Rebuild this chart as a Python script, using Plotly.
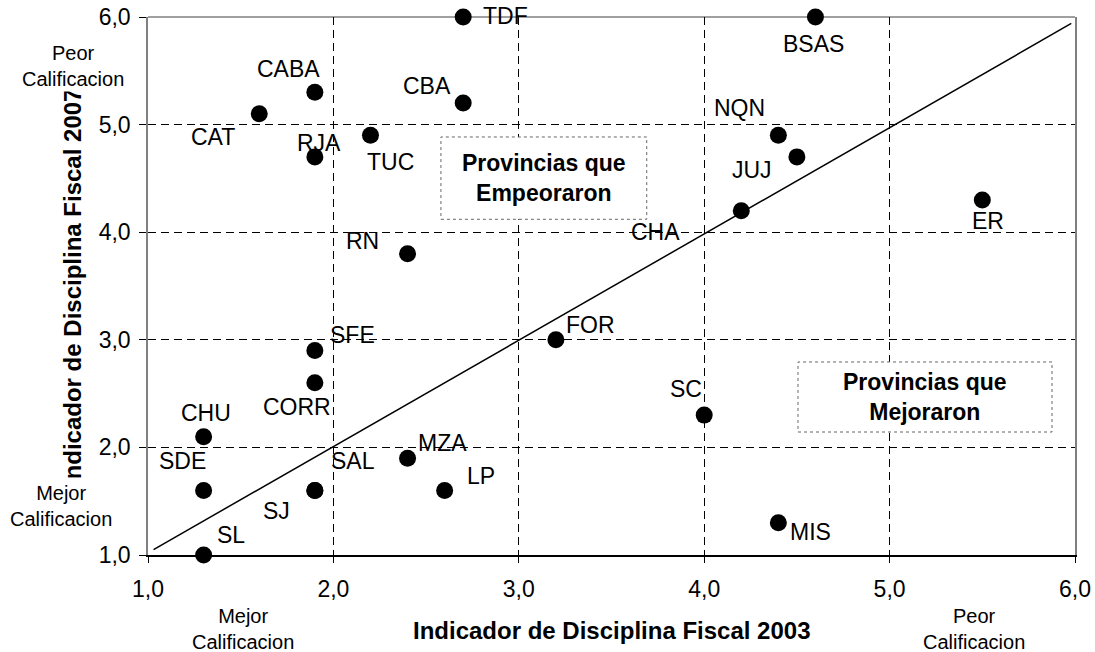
import plotly.graph_objects as go

# ---- data ----
PROVINCES = ["TDF", "BSAS", "CABA", "CBA", "CAT", "TUC", "RJA", "NQN", "JUJ", "CHA",
             "ER", "RN", "FOR", "SFE", "CORR", "SC", "CHU", "MZA", "SDE", "SAL",
             "SJ", "LP", "MIS", "SL"]
X_2003 = [2.7, 4.6, 1.9, 2.7, 1.6, 2.2, 1.9, 4.4, 4.5, 4.2,
          5.5, 2.4, 3.2, 1.9, 1.9, 4.0, 1.3, 2.4, 1.3, 1.9,
          1.9, 2.6, 4.4, 1.3]
Y_2007 = [6.0, 6.0, 5.3, 5.2, 5.1, 4.9, 4.7, 4.9, 4.7, 4.2,
          4.3, 3.8, 3.0, 2.9, 2.6, 2.3, 2.1, 1.9, 1.6, 1.6,
          1.6, 1.6, 1.3, 1.0]
LINE_X = [1.03, 5.98]
LINE_Y = [1.05, 5.94]
TICK_VALS = [1, 2, 3, 4, 5, 6]

# ---- styling: label offsets in pixels (dx, dy-up) ----
LABEL_OFFSETS = {
    "TDF": (42, 1), "BSAS": (-2, -27), "CABA": (-26, 23), "CBA": (-36, 17),
    "CAT": (-46, -23), "TUC": (20, -27), "RJA": (4, 14), "NQN": (-39, 27),
    "JUJ": (-45, -13), "CHA": (-86, -21), "ER": (6, -21), "RN": (-45, 13),
    "FOR": (35, 15), "SFE": (38, 16), "CORR": (-18, -24), "SC": (-18, 26),
    "CHU": (2, 24), "MZA": (35, 15), "SDE": (-21, 29), "SAL": (38, 29),
    "SJ": (-38, -21), "LP": (36, 14), "MIS": (32, -9), "SL": (27, 20),
}

FONT = "Liberation Sans, Arial, sans-serif"
C = dict(xanchor="center", yanchor="middle", showarrow=False)

fig = go.Figure()
fig.add_trace(go.Scatter(x=LINE_X, y=LINE_Y, mode="lines",
                         line=dict(color="black", width=1.5),
                         hoverinfo="skip", showlegend=False))
fig.add_trace(go.Scatter(x=X_2003, y=Y_2007, mode="markers", text=PROVINCES,
                         marker=dict(color="black", size=17),
                         cliponaxis=False, showlegend=False))

annotations = []
for name, xv, yv in zip(PROVINCES, X_2003, Y_2007):
    dx, dy = LABEL_OFFSETS[name]
    annotations.append(dict(x=xv, y=yv, xref="x", yref="y", text=name,
                            xshift=dx, yshift=dy,
                            font=dict(family=FONT, size=23, color="black"), **C))

# axis titles
annotations.append(dict(x=0.5, y=-0.141, xref="paper", yref="paper",
                        text="<b>Indicador de Disciplina Fiscal 2003</b>",
                        font=dict(family=FONT, size=24, color="black"), **C))
annotations.append(dict(x=-0.082, y=0.498, xref="paper", yref="paper",
                        text="<b>Indicador de Disciplina Fiscal 2007</b>",
                        textangle=-90,
                        font=dict(family=FONT, size=24, color="black"), **C))

small = dict(family=FONT, size=20, color="black")
annotations.append(dict(x=-0.0809, y=0.909, xref="paper", yref="paper",
                        text="Peor<br>Calificacion", font=small,
                        bgcolor="white", **C))
annotations.append(dict(x=-0.0939, y=0.091, xref="paper", yref="paper",
                        text="Mejor<br>Calificacion", font=small,
                        bgcolor="white", borderpad=4, **C))
annotations.append(dict(x=0.1025, y=-0.1375, xref="paper", yref="paper",
                        text="Mejor<br>Calificacion", font=small, **C))
annotations.append(dict(x=0.891, y=-0.1375, xref="paper", yref="paper",
                        text="Peor<br>Calificacion", font=small, **C))

boxfont = dict(family=FONT, size=23, color="black")
annotations.append(dict(x=3.135, y=4.50, xref="x", yref="y",
                        text="<b>Provincias que<br>Empeoraron</b>",
                        font=boxfont, **C))
annotations.append(dict(x=5.19, y=2.47, xref="x", yref="y",
                        text="<b>Provincias que<br>Mejoraron</b>",
                        font=boxfont, **C))

shapes = [
    dict(type="line", xref="paper", yref="paper", x0=0, x1=1, y0=1, y1=1,
         line=dict(color="#808080", width=1.5), layer="between"),
    dict(type="rect", xref="x", yref="y", x0=2.58, x1=3.69, y0=4.12, y1=4.885,
         line=dict(color="#666666", width=1, dash="dot"), fillcolor="white",
         layer="above"),
    dict(type="rect", xref="x", yref="y", x0=4.506, x1=5.876, y0=2.143, y1=2.794,
         line=dict(color="#666666", width=1, dash="dot"), fillcolor="white",
         layer="above"),
]

fig.update_layout(
    width=1095, height=652,
    margin=dict(l=148, r=20, t=17, b=97, pad=0, autoexpand=False),
    paper_bgcolor="white", plot_bgcolor="white",
    separators=", ",
    showlegend=False,
    annotations=annotations,
    shapes=shapes,
    xaxis=dict(range=[1, 6], tickvals=TICK_VALS, tickformat=".1f",
               automargin=False,
               showgrid=True, gridcolor="black", gridwidth=1, griddash="8px,5px",
               zeroline=False, showline=True, linecolor="black", linewidth=1.5,
               ticks="outside", ticklen=6, tickcolor="black", tickwidth=1,
               ticklabelstandoff=7, layer="below traces",
               tickfont=dict(family=FONT, size=23, color="black")),
    yaxis=dict(range=[1, 6], tickvals=TICK_VALS, tickformat=".1f",
               automargin=False,
               showgrid=True, gridcolor="black", gridwidth=1, griddash="8px,5px",
               zeroline=False, showline=True, linecolor="#808080", linewidth=1.5,
               mirror=True,
               ticks="outside", ticklen=7, tickcolor="black", tickwidth=1,
               ticklabelstandoff=4, layer="below traces",
               tickfont=dict(family=FONT, size=23, color="black")),
)

fig.write_html("out.html",
               config={"displayModeBar": False},
               post_script="document.body.style.margin='0';"
                           "document.body.style.overflow='hidden';")
